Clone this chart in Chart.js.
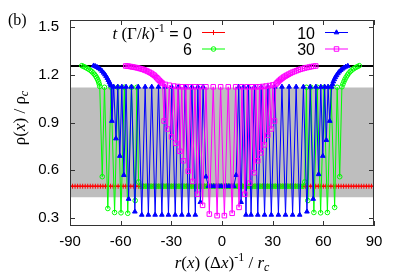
<!DOCTYPE html>
<html>
<head>
<meta charset="utf-8">
<script src="https://cdn.jsdelivr.net/npm/chart.js@4"></script>
<style>
  html, body { margin: 0; padding: 0; background: #fff; }
  canvas { display: block; }
</style>
</head>
<body>
<canvas id="myChart" width="399" height="279"></canvas>
<script>
///////////// DATA /////////////

const xTicks = [-90, -60, -30, 0, 30, 60, 90];
const yTicks = [0.3, 0.6, 0.9, 1.2, 1.5];

const blackLevel = 1.256;          // upper reference line
const bandTop = 1.12, bandBottom = 0.43;   // grey region

// t = 0 : uniform profile
const t0Level = 0.5;
const t0X = [
  -90, -88.5, -87, -85.5, -84, -82.5, -81, -79.5, -78, -76.5,
  -75, -73.5, -72, -70.5, -69, -67.5, -66, -64.5, -63, -61.5,
  -60, -58.5, -57, -55.5, -54, -52.5, -51, -49.5, -48, -46.5,
  -45, -43.5, -42, -40.5, -39, -37.5, -36, -34.5, -33, -31.5,
  -30, -28.5, -27, -25.5, -24, -22.5, -21, -19.5, -18, -16.5,
  -15, -13.5, -12, -10.5, -9, -7.5, -6, -4.5, -3, -1.5,
  0, 1.5, 3, 4.5, 6, 7.5, 9, 10.5, 12, 13.5,
  15, 16.5, 18, 19.5, 21, 22.5, 24, 25.5, 27, 28.5,
  30, 31.5, 33, 34.5, 36, 37.5, 39, 40.5, 42, 43.5,
  45, 46.5, 48, 49.5, 51, 52.5, 54, 55.5, 57, 58.5,
  60, 61.5, 63, 64.5, 66, 67.5, 69, 70.5, 72, 73.5,
  75, 76.5, 78, 79.5, 81, 82.5, 84, 85.5, 87, 88.5, 90
];

// t = 6
const t6 = [
  [-83.0, 1.258], [-82.0, 1.253], [-81.0, 1.248], [-80.0, 1.242], [-79.0, 1.236],
  [-78.0, 1.229], [-77.1, 1.221], [-76.3, 1.212], [-75.5, 1.203], [-74.8, 1.193],
  [-74.2, 1.182], [-73.6, 1.170], [-73.1, 1.157], [-72.7, 1.143], [-72.4, 1.128],
  [-70.9, 0.56], [-69.6, 1.122], [-67.6, 0.36], [-65.7, 1.122], [-63.6, 0.335],
  [-61.7, 1.122], [-59.8, 0.333], [-57.8, 1.122], [-55.8, 0.33], [-53.6, 1.122],
  [-51.4, 0.41], [-50.4, 1.122], [-49.4, 0.527],
  [-48, 0.5], [-46.5, 0.5], [-45, 0.5], [-43.5, 0.5], [-42, 0.5], [-40.5, 0.5],
  [-39, 0.5], [-37.5, 0.5], [-36, 0.5], [-34.5, 0.5], [-33, 0.5], [-31.5, 0.5],
  [-30, 0.5], [-28.5, 0.5], [-27, 0.5], [-25.5, 0.5], [-24, 0.5], [-22.5, 0.5],
  [-21, 0.5], [-19.5, 0.5], [-18, 0.5], [-16.5, 0.5], [-15, 0.5], [-13.5, 0.5],
  [-12, 0.5], [-10.5, 0.5], [-9, 0.5], [-7.5, 0.5], [-6, 0.5], [-4.5, 0.5],
  [-3, 0.5], [-1.5, 0.5], [0, 0.5], [1.5, 0.5], [3, 0.5], [4.5, 0.5],
  [6, 0.5], [7.5, 0.5], [9, 0.5], [10.5, 0.5], [12, 0.5], [13.5, 0.5],
  [15, 0.5], [16.5, 0.5], [18, 0.5], [19.5, 0.5], [21, 0.5], [22.5, 0.5],
  [24, 0.5], [25.5, 0.5], [27, 0.5], [28.5, 0.5], [30, 0.5], [31.5, 0.5],
  [33, 0.5], [34.5, 0.5], [36, 0.5], [37.5, 0.5], [39, 0.5], [40.5, 0.5],
  [42, 0.5], [43.5, 0.5], [45, 0.5], [46.5, 0.5], [48, 0.5],
  [49.0, 0.527], [50.0, 1.122], [50.8, 0.41], [52.6, 1.122], [54.4, 0.335],
  [56.4, 1.122], [58.4, 0.333], [60.4, 1.122], [62.4, 0.335], [64.5, 1.122],
  [66.7, 0.367], [68.2, 1.122], [69.7, 0.56],
  [71.0, 1.125], [71.6, 1.142], [72.2, 1.158], [72.8, 1.172], [73.5, 1.186],
  [74.3, 1.199], [75.1, 1.211], [76.0, 1.222], [77.0, 1.231], [78.0, 1.239],
  [79.1, 1.246], [80.2, 1.252], [81.3, 1.258]
];

// t = 10
const t10 = [
  [-76.0, 1.258], [-75.0, 1.254], [-74.0, 1.249], [-73.0, 1.242], [-72.0, 1.234],
  [-71.0, 1.224], [-70.1, 1.213], [-69.3, 1.202], [-68.6, 1.191], [-67.9, 1.179],
  [-67.3, 1.167], [-66.7, 1.155], [-66.2, 1.143], [-65.7, 1.132],
  [-65.2, 0.91], [-64.1, 1.125], [-62.8, 0.80], [-61.7, 1.125], [-60.5, 0.69],
  [-59.3, 1.125], [-58.1, 0.57], [-56.8, 1.125], [-55.3, 0.42], [-53.6, 1.125],
  [-51.6, 0.34], [-49.6, 1.125], [-47.5, 0.32], [-45.5, 1.125], [-43.6, 0.32],
  [-41.6, 1.125], [-39.6, 0.32], [-37.6, 1.125], [-35.6, 0.32], [-33.7, 1.125],
  [-31.7, 0.32], [-29.7, 1.125], [-27.7, 0.32], [-25.8, 1.125], [-23.8, 0.32],
  [-21.8, 1.125], [-19.8, 0.32], [-17.8, 1.125], [-15.8, 0.32], [-14.3, 1.125],
  [-12.8, 0.40], [-11.2, 1.125], [-9.5, 0.56],
  [-8.0, 0.5], [-6.5, 0.5], [-5.0, 0.5], [-3.5, 0.5], [-2.0, 0.5], [-0.5, 0.5],
  [1.0, 0.5], [2.5, 0.5], [4.0, 0.5], [5.5, 0.5], [7.0, 0.5],
  [8.4, 0.57], [9.9, 1.125], [11.3, 0.40], [12.8, 1.125], [14.2, 0.32],
  [15.7, 1.125], [17.2, 0.32], [19.2, 1.125], [21.2, 0.32], [23.2, 1.125],
  [25.2, 0.32], [27.2, 1.125], [29.2, 0.32], [31.3, 1.125], [33.4, 0.32],
  [35.5, 1.125], [37.6, 0.32], [39.7, 1.125], [41.8, 0.32], [43.9, 1.125],
  [46.0, 0.32], [48.2, 1.125], [50.3, 0.34], [52.2, 1.125], [54.0, 0.42],
  [55.6, 1.125], [57.2, 0.575], [58.5, 1.125], [59.7, 0.69], [60.8, 1.125],
  [61.8, 0.79], [62.8, 1.125], [63.8, 0.91],
  [64.9, 1.125], [65.4, 1.142], [65.9, 1.158], [66.5, 1.172], [67.1, 1.185],
  [67.8, 1.197], [68.6, 1.209], [69.4, 1.22], [70.3, 1.23], [71.2, 1.238],
  [72.2, 1.245], [73.3, 1.251], [74.5, 1.256]
];

// t = 30
const t30 = [
  [-57, 1.256], [-56, 1.255], [-55, 1.254], [-54, 1.252], [-53, 1.250],
  [-52, 1.248], [-51, 1.246], [-50, 1.244], [-49, 1.241], [-48, 1.238],
  [-47, 1.235], [-46, 1.231], [-45, 1.227], [-44, 1.222], [-43, 1.217],
  [-42, 1.211], [-41, 1.204], [-40.2, 1.198], [-39.4, 1.19], [-38.6, 1.182],
  [-37.9, 1.174], [-37.2, 1.166], [-36.5, 1.159], [-35.8, 1.152], [-35.2, 1.146],
  [-34.3, 0.91], [-33.5, 1.14], [-32.3, 0.86], [-31.2, 1.135], [-29.9, 0.81],
  [-28.6, 1.13], [-27.3, 0.77], [-26.1, 1.127], [-24.9, 0.72], [-23.8, 1.125],
  [-22.8, 0.66], [-21.4, 1.125], [-20.0, 0.595], [-18.7, 1.125], [-17.4, 0.53],
  [-16.0, 1.125], [-14.5, 0.45], [-13.0, 1.125], [-11.5, 0.38], [-9.5, 1.125],
  [-7.5, 0.325], [-5.2, 1.125], [-2.9, 0.315], [-0.8, 1.125], [1.4, 0.315],
  [3.7, 1.125], [6.0, 0.33], [8.1, 1.125], [10.1, 0.367], [11.8, 1.125],
  [13.5, 0.45], [15.0, 1.125], [16.4, 0.52], [17.7, 1.125], [18.9, 0.585],
  [20.0, 1.125], [21.2, 0.66], [22.2, 1.125], [23.2, 0.71], [24.1, 1.127],
  [25.1, 0.76], [26.1, 1.13], [27.1, 0.82], [28.1, 1.133], [29.1, 0.86],
  [30.1, 1.137], [31.1, 0.91],
  [31.9, 1.142], [32.6, 1.150], [33.3, 1.158], [34.0, 1.165], [34.8, 1.172],
  [35.6, 1.179], [36.5, 1.186], [37.4, 1.192], [38.4, 1.198], [39.4, 1.204],
  [40.5, 1.210], [41.6, 1.216], [42.8, 1.221], [44.0, 1.226], [45.2, 1.231],
  [46.4, 1.235], [47.7, 1.239], [49.0, 1.243], [50.3, 1.246], [51.6, 1.249],
  [52.9, 1.252], [54.2, 1.254], [55.5, 1.256]
];

const legendLabels = ['0', '6', '10', '30'];

///////////// HELPERS /////////////

const serif = '"Liberation Serif", "DejaVu Serif", serif';
const sans = '"Liberation Sans", Arial, sans-serif';
const toPts = arr => arr.map(p => ({ x: p[0], y: p[1] }));
const flat = (lvl) => [{ x: -90, y: lvl }, { x: 90, y: lvl }];

// draws a run of text pieces [text, font, dy] side by side
function richText(ctx, parts, x, y, align) {
  let total = 0;
  parts.forEach(p => { ctx.font = p[1]; total += ctx.measureText(p[0]).width; });
  let cx = align === 'center' ? x - total / 2 : (align === 'right' ? x - total : x);
  ctx.textAlign = 'left';
  ctx.textBaseline = 'alphabetic';
  parts.forEach(p => {
    ctx.font = p[1];
    ctx.fillText(p[0], cx, y + (p[2] || 0));
    cx += ctx.measureText(p[0]).width;
  });
}

const series = [
  { color: '#ff0000', style: 'cross', r: 2.5, fill: false },
  { color: '#00ff00', style: 'circle', r: 2.3, fill: false },
  { color: '#0000ff', style: 'triangle', r: 2.7, fill: true },
  { color: '#ff00ff', style: 'rect', r: 3.2, fill: false }
];

///////////// FRAME, TITLES, KEY /////////////

const frame = {
  id: 'frame',
  afterDraw(chart) {
    const ctx = chart.ctx;
    const a = chart.chartArea;
    const xs = chart.scales.x, ys = chart.scales.y;
    ctx.save();
    ctx.strokeStyle = '#333';
    ctx.lineWidth = 1;
    ctx.strokeRect(a.left + 0.5, a.top + 0.5, a.right - a.left - 1, a.bottom - a.top - 1);
    ctx.beginPath();
    xTicks.forEach(v => {
      const px = Math.round(xs.getPixelForValue(v)) + 0.5;
      ctx.moveTo(px, a.bottom); ctx.lineTo(px, a.bottom - 5);
      ctx.moveTo(px, a.top); ctx.lineTo(px, a.top + 5);
    });
    yTicks.forEach(v => {
      const py = Math.round(ys.getPixelForValue(v)) + 0.5;
      ctx.moveTo(a.left, py); ctx.lineTo(a.left + 5, py);
      ctx.moveTo(a.right, py); ctx.lineTo(a.right - 5, py);
    });
    ctx.stroke();

    ctx.fillStyle = '#000';
    const it = 'italic 17px ' + serif, rm = '17px ' + serif;
    const sm = '12px ' + serif, smi = 'italic 12px ' + serif;
    const num = '16px ' + sans;

    // panel tag
    richText(ctx, [['(b)', '16px ' + serif]], 8, 25, 'left');

    // x title
    richText(ctx, [['r', it], ['(', rm], ['x', it], [') (', rm], ['\u0394', rm], ['x', it], [')', rm],
      ['-1', sm, -7], [' / ', rm], ['r', it], ['c', smi, 3]], 222, 268, 'center');

    // y title
    ctx.save();
    ctx.translate(20, 118);
    ctx.rotate(-Math.PI / 2);
    richText(ctx, [['\u03c1', rm], ['(', rm], ['x', it], [') / ', rm], ['\u03c1', rm], ['c', smi, 3]], 0, 5, 'center');
    ctx.restore();

    // key
    richText(ctx, [['t', it], [' (', rm], ['\u0393', rm], ['/', rm], ['k', it], [')', rm], ['-1', sm, -7],
      [' = ' + legendLabels[0], num]], 192, 39, 'right');
    richText(ctx, [[legendLabels[1], num]], 192, 55, 'right');
    richText(ctx, [[legendLabels[2], num]], 315, 39, 'right');
    richText(ctx, [[legendLabels[3], num]], 315, 55, 'right');

    const slots = [[202, 32.5], [202, 49], [325, 32.5], [325, 49]];
    series.forEach((s, i) => {
      const [sx, sy] = slots[i];
      ctx.strokeStyle = s.color;
      ctx.lineWidth = 1;
      ctx.beginPath();
      ctx.moveTo(sx, sy); ctx.lineTo(sx + 23, sy);
      ctx.stroke();
      ctx.fillStyle = s.fill ? s.color : 'rgba(0,0,0,0)';
      Chart.helpers.drawPoint(ctx, { pointStyle: s.style, radius: s.r, rotation: 0, borderWidth: 1 }, sx + 11.5, sy);
    });
    ctx.restore();
  }
};

///////////// CHART /////////////

function lineSet(label, pts, s, order) {
  return {
    label, data: pts, showLine: true, order,
    borderColor: s.color, borderWidth: 1, tension: 0,
    pointStyle: s.style, pointRadius: s.r, pointBorderWidth: 1,
    pointBorderColor: s.color,
    pointBackgroundColor: s.fill ? s.color : 'rgba(0,0,0,0)',
    backgroundColor: 'rgba(0,0,0,0)'
  };
}

const ctx = document.getElementById('myChart').getContext('2d');
const tickFont = { family: sans, size: 15 };

new Chart(ctx, {
  type: 'scatter',
  data: {
    datasets: [
      lineSet('30', toPts(t30), series[3], 1),
      lineSet('10', toPts(t10), series[2], 2),
      lineSet('6', toPts(t6), series[1], 3),
      lineSet('0', t0X.map(x => ({ x, y: t0Level })), series[0], 4),
      { label: 'ref', data: flat(blackLevel), showLine: true, borderColor: '#000', borderWidth: 2, pointRadius: 0, order: 5 },
      { label: 'bandTop', data: flat(bandTop), showLine: true, borderWidth: 0, pointRadius: 0, fill: false, order: 6 },
      { label: 'bandBottom', data: flat(bandBottom), showLine: true, borderWidth: 0, pointRadius: 0, fill: '-1', backgroundColor: '#bebebe', order: 7 }
    ]
  },
  options: {
    responsive: false,
    animation: false,
    devicePixelRatio: 1,
    events: [],
    layout: { padding: { top: 20, right: 25, left: 0, bottom: 0 } },
    plugins: {
      legend: { display: false },
      tooltip: { enabled: false },
      filler: { drawTime: 'beforeDatasetsDraw' }
    },
    scales: {
      x: {
        type: 'linear', min: -90, max: 90,
        grid: { display: false, drawTicks: false },
        border: { display: false },
        ticks: { font: tickFont, color: '#000', padding: 7, maxRotation: 0, autoSkip: false },
        afterBuildTicks: s => { s.ticks = xTicks.map(v => ({ value: v })); },
        afterFit: s => { s.height = 53; }
      },
      y: {
        type: 'linear', min: 0.25, max: 1.545,
        grid: { display: false, drawTicks: false },
        border: { display: false },
        ticks: { font: tickFont, color: '#000', padding: 11, callback: v => v.toFixed(1) },
        afterBuildTicks: s => { s.ticks = yTicks.map(v => ({ value: v })); },
        afterFit: s => { s.width = 70; }
      }
    }
  },
  plugins: [frame]
});
</script>
</body>
</html>
